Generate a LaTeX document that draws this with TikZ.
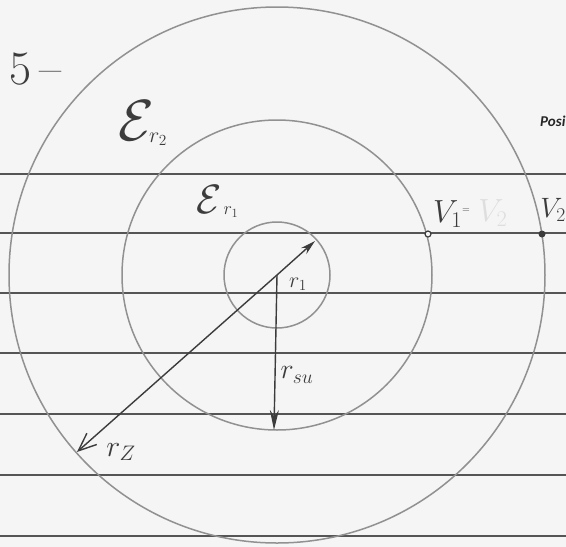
\RequirePackage{fix-cm}
\documentclass[tikz,border=0pt]{standalone}
\usepackage{fontspec}
\newfontfamily\carlito{Carlito}
\usetikzlibrary{arrows.meta}
\definecolor{paper}{RGB}{245,245,245}
\definecolor{rulec}{RGB}{85,85,85}
\definecolor{pencil}{RGB}{145,145,145}
\definecolor{ink}{RGB}{60,60,60}
\definecolor{faint}{RGB}{222,222,222}
\begin{document}
\begin{tikzpicture}[x=1pt,y=-1pt,
  ruleline/.style={draw=rulec,line width=1.2pt},
  ring/.style={draw=pencil,line width=1.5pt},
  vec/.style={draw=ink,line width=1.4pt},
  hand/.style={text=ink,inner sep=0pt},
  fs/.style={font=\fontsize{#1}{#1}\selectfont}
]
\clip (0,0) rectangle (566,547);
\fill[paper] (0,0) rectangle (566,547);
% ruled paper lines
\foreach \y in {174,233,293,353,414,475,536} \draw[ruleline] (0,\y) -- (566,\y);
% centre and circles
\coordinate (O) at (277,275);
\draw[ring] (O) circle[radius=53pt];
\draw[ring] (O) circle[radius=155pt];
\draw[ring] (O) circle[radius=268pt];
% vectors
\coordinate (t1) at (315,241);
\coordinate (tsu) at (274,430);
\coordinate (tz) at (77,452);
\draw[vec,-{Stealth[length=15pt,width=8pt]}] (O) -- (t1);
\draw[vec,-{Stealth[length=20pt,width=9pt]}] (O) -- (tsu);
\draw[vec,-{Straight Barb[length=18pt,width=15pt]}] (O) -- (tz);
% points
\node[circle,draw=ink,fill=paper,line width=1.2pt,inner sep=0pt,minimum size=6pt] (v1) at (428,234) {};
\node[circle,fill=ink,inner sep=0pt,minimum size=7pt] (v2) at (542,234) {};
% labels
\node[hand,fs=48] (five) at (36,69) {5\,--};
\node[hand,fs=58] (e2) at (136,121) {$\mathcal{E}$};
\node[hand,fs=22] (e2s) at (158,139) {$r_2$};
\node[hand,fs=41] (e1) at (209,199) {$\mathcal{E}$};
\node[hand,fs=18] (e1s) at (231,212) {$r_1$};
\node[hand,fs=22] (lr1) at (298,284) {$r_1$};
\node[hand,fs=28] (lrsu) at (297,375) {$r_{su}$};
\node[hand,fs=30] (lrz) at (121,452) {$r_Z$};
\node[hand,fs=32,anchor=west] (lv1) at (433,214) {$V_1$\raisebox{10pt}{\fontsize{10}{10}\selectfont$=$}};
\node[inner sep=0pt,text=faint,fs=32] (lv2f) at (493,213) {$V_2$};
\node[hand,fs=28,anchor=east] (lv2) at (566,210) {$V_2$};
\node[anchor=base west,inner sep=0pt,text=black!85,font=\carlito\bfseries\itshape\fontsize{15}{15}\selectfont] (posi) at (540,126) {Posi};
\end{tikzpicture}
\end{document}
